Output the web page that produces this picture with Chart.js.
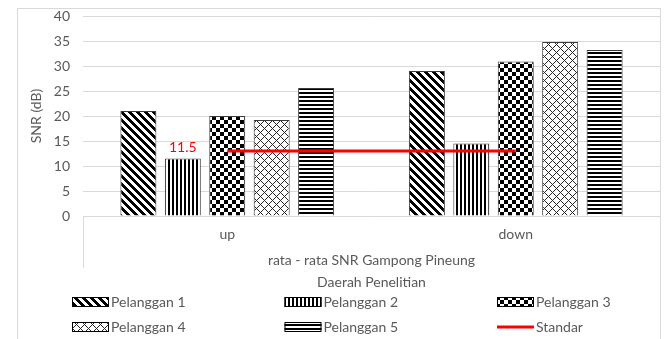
<!DOCTYPE html>
<html>
<head>
<meta charset="utf-8">
<script src="https://cdn.jsdelivr.net/npm/chart.js@4.4.1/dist/chart.umd.min.js"></script>
<style>
  html, body { margin: 0; padding: 0; background: #fff; }
</style>
</head>
<body>
<canvas id="snrChart" width="670" height="339"></canvas>
<script>
const areas = ['up', 'down'];
const regionLabel = ['rata - rata SNR Gampong Pineung'];
const seriesNames = ['Pelanggan 1', 'Pelanggan 2', 'Pelanggan 3', 'Pelanggan 4', 'Pelanggan 5'];
const pelanggan1 = [21, 29];
const pelanggan2 = [11.5, 14.5];
const pelanggan3 = [20, 30.9];
const pelanggan4 = [19.2, 34.8];
const pelanggan5 = [25.6, 33.2];
const standar = [13, 13];
const yMin = 0;
const yMax = 40;
const yStep = 5;

const textGrey = '#595959';
const lineGrey = '#d9d9d9';
const red = '#ff0000';

Chart.defaults.font.family = 'Lato, "Open Sans", sans-serif';
Chart.defaults.font.size = 14;
Chart.defaults.color = textGrey;

// 8x8 black/white tiles, like the office fill patterns
function makePattern(paint) {
  const c = document.createElement('canvas');
  c.width = 8;
  c.height = 8;
  const cx = c.getContext('2d');
  const img = cx.createImageData(8, 8);
  for (let y = 0; y < 8; y++) {
    for (let x = 0; x < 8; x++) {
      const v = paint(x, y);
      const i = (y * 8 + x) * 4;
      img.data[i] = img.data[i + 1] = img.data[i + 2] = v;
      img.data[i + 3] = 255;
    }
  }
  cx.putImageData(img, 0, 0);
  return cx.createPattern(c, 'repeat');
}

const fills = [
  makePattern((x, y) => ((x - y + 8) % 8) < 4 ? 0 : 255),
  makePattern((x) => (x % 4) < 2 ? 0 : 255),
  makePattern((x, y) => (((x >> 2) + (y >> 2)) % 2) ? 255 : 0),
  makePattern((x, y) => ((x + y) % 8 === 0 || (x - y + 8) % 8 === 0) ? 40 : 255),
  makePattern((x, y) => (y % 4) < 2 ? 0 : 255),
];

const seriesData = [pelanggan1, pelanggan2, pelanggan3, pelanggan4, pelanggan5];

const barSets = seriesData.map((d, i) => ({
  label: seriesNames[i],
  data: d,
  backgroundColor: fills[i],
  borderColor: '#3a3a3a',
  borderWidth: 1,
  order: 1,
}));

const lineSet = {
  type: 'line',
  label: 'Standar',
  data: standar,
  borderColor: red,
  borderWidth: 3,
  pointRadius: 0,
  order: 0,
};

// outer border + left edge of the category box
const framePlugin = {
  id: 'frame',
  beforeDraw(chart) {
    const { ctx, chartArea: a } = chart;
    ctx.save();
    ctx.fillStyle = '#fff';
    ctx.fillRect(0, 0, chart.width, chart.height);
    ctx.strokeStyle = lineGrey;
    ctx.lineWidth = 1;
    ctx.beginPath();
    ctx.moveTo(17.5, chart.height);
    ctx.lineTo(17.5, 8.5);
    ctx.lineTo(a.right + 0.5, 8.5);
    ctx.lineTo(a.right + 0.5, chart.height);
    ctx.moveTo(a.left + 0.5, a.bottom);
    ctx.lineTo(a.left + 0.5, a.bottom + 52);
    ctx.stroke();
    ctx.restore();
  },
};

// red value label over Pelanggan 2 in "up"
const valueLabel = {
  id: 'valueLabel',
  afterDatasetsDraw(chart) {
    const bar = chart.getDatasetMeta(1).data[0];
    const { ctx } = chart;
    ctx.save();
    ctx.fillStyle = red;
    ctx.font = '14px Lato, sans-serif';
    ctx.textAlign = 'center';
    ctx.textBaseline = 'middle';
    ctx.fillText(String(pelanggan2[0]), bar.x, bar.y - 11);
    ctx.restore();
  },
};

// three-column legend under the axis titles
const gridLegend = {
  id: 'gridLegend',
  afterDraw(chart) {
    const { ctx } = chart;
    const cols = [72, 284.5, 497];
    const rows = [302, 327];
    const items = [...barSets, lineSet];
    ctx.save();
    ctx.font = '14px Lato, sans-serif';
    ctx.textBaseline = 'middle';
    ctx.textAlign = 'left';
    items.forEach((ds, i) => {
      const x = cols[i % 3];
      const y = rows[Math.floor(i / 3)];
      if (ds.type === 'line') {
        ctx.strokeStyle = ds.borderColor;
        ctx.lineWidth = 3;
        ctx.beginPath();
        ctx.moveTo(x, y);
        ctx.lineTo(x + 37, y);
        ctx.stroke();
      } else {
        ctx.fillStyle = ds.backgroundColor;
        ctx.fillRect(x, y - 5, 37, 10);
        ctx.strokeStyle = '#000';
        ctx.lineWidth = 1;
        ctx.strokeRect(x + 0.5, y - 4.5, 36, 9);
      }
      ctx.fillStyle = textGrey;
      ctx.fillText(ds.label, x + 39, y);
    });
    ctx.restore();
  },
};

new Chart(document.getElementById('snrChart'), {
  type: 'bar',
  data: {
    labels: areas,
    datasets: [...barSets, lineSet],
  },
  plugins: [framePlugin, valueLabel, gridLegend],
  options: {
    responsive: false,
    animation: false,
    events: [],
    layout: { padding: { left: 0, top: 16, right: 10, bottom: 48 } },
    datasets: {
      bar: { categoryPercentage: 0.77, barPercentage: 0.81 },
    },
    plugins: {
      legend: { display: false },
      tooltip: { enabled: false },
    },
    scales: {
      y: {
        min: yMin,
        max: yMax,
        // gap between labels and plot comes from an invisible tick mark,
        // so the label padding does not push the plot area down
        ticks: { stepSize: yStep, padding: 0 },
        grid: { color: lineGrey, drawTicks: true, tickLength: 13, tickColor: 'rgba(0,0,0,0)' },
        border: { display: false },
        title: {
          display: true,
          text: 'SNR (dB)',
          padding: { top: 28, bottom: 0 },
        },
        afterFit(s) { s.width = 83; },
      },
      x: {
        axis: 'x',
        weight: 0,
        ticks: { padding: 10 },
        grid: { display: false, drawTicks: false },
        border: { display: false },
        afterFit(s) { s.height = 31; },
      },
      x2: {
        type: 'category',
        axis: 'x',
        position: 'bottom',
        weight: 1,
        labels: regionLabel,
        offset: true,
        ticks: { padding: 5 },
        grid: { display: false, drawTicks: false },
        border: { display: false },
        title: {
          display: true,
          text: 'Daerah Penelitian',
          padding: { top: 0, bottom: 0 },
        },
        afterFit(s) { s.height = 44; },
      },
    },
  },
});
</script>
</body>
</html>
